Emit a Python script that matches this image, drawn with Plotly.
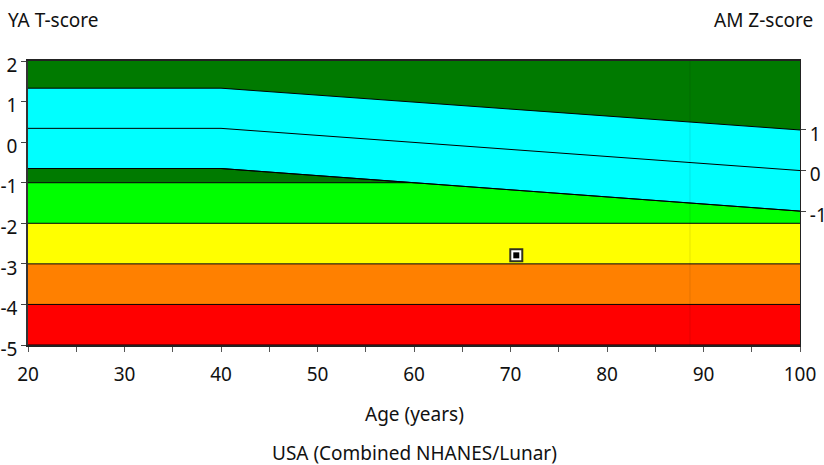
import plotly.graph_objects as go

# ---- data ----
age_range = [20, 100]
t_band_edges = [-5, -4, -3, -2, -1, 2]
t_band_colors = ["#FF0000", "#FF8000", "#FFFF00", "#00FF00", "#007A00"]

ref_ages = [20, 40, 100]
z_plus1_t = [1.33, 1.33, 0.30]
z_zero_t = [0.34, 0.34, -0.70]
z_minus1_t = [-0.65, -0.65, -1.70]

z_ticks = [1, 0, -1]
z_tick_text = ["1", "0", "-1"]
z_offset_at_100 = -0.70  # T value of Z=0 at age 100

t_ticks = [-5, -4, -3, -2, -1, 0, 1, 2]
t_tick_text = ["-5", "-4", "-3", "-2", "-1", "0", "1", "2"]

patient_age = [70.6]
patient_t = [-2.79]

grid_age = [88.6]

x_major = [20, 30, 40, 50, 60, 70, 80, 90, 100]
x_minor = [25, 35, 45, 55, 65, 75, 85, 95]

FONT = "Noto Sans"
FS = 19

fig = go.Figure()

# T-score bands
fig.add_trace(go.Scatter(x=age_range, y=[t_band_edges[0]] * 2, mode="lines",
                         line=dict(color="black", width=1), showlegend=False, hoverinfo="skip"))
for i, col in enumerate(t_band_colors):
    top = t_band_edges[i + 1]
    lc = "black" if top < 2 else "rgba(0,0,0,0)"
    fig.add_trace(go.Scatter(x=age_range, y=[top] * 2, mode="lines", fill="tonexty",
                             fillcolor=col, line=dict(color=lc, width=1),
                             showlegend=False, hoverinfo="skip"))

# Z-score reference band (cyan)
fig.add_trace(go.Scatter(x=ref_ages, y=z_minus1_t, mode="lines",
                         line=dict(color="black", width=1), showlegend=False, hoverinfo="skip"))
fig.add_trace(go.Scatter(x=ref_ages, y=z_plus1_t, mode="lines", fill="tonexty",
                         fillcolor="#00FFFF", line=dict(color="black", width=1),
                         showlegend=False, hoverinfo="skip"))
fig.add_trace(go.Scatter(x=ref_ages, y=z_zero_t, mode="lines",
                         line=dict(color="black", width=1), showlegend=False, hoverinfo="skip"))
fig.add_trace(go.Scatter(x=ref_ages, y=z_minus1_t, mode="lines",
                         line=dict(color="black", width=1), showlegend=False, hoverinfo="skip"))

# faint vertical grid line
fig.add_trace(go.Scatter(x=grid_age * 2, y=[t_band_edges[0], t_band_edges[-1]], mode="lines",
                         line=dict(color="rgba(0,0,0,0.10)", width=1),
                         showlegend=False, hoverinfo="skip"))

# patient marker
fig.add_trace(go.Scatter(x=patient_age, y=patient_t, mode="markers",
                         marker=dict(symbol="square", size=12, color="white",
                                     line=dict(color="#303020", width=2)),
                         showlegend=False, hoverinfo="skip"))
fig.add_trace(go.Scatter(x=patient_age, y=patient_t, mode="markers",
                         marker=dict(symbol="square", size=6, color="black"),
                         showlegend=False, hoverinfo="skip"))

# dummy trace for secondary axis
fig.add_trace(go.Scatter(x=[None], y=[None], yaxis="y2", showlegend=False, hoverinfo="skip"))

z_lo = t_band_edges[0] - z_offset_at_100
z_hi = t_band_edges[-1] - z_offset_at_100

fig.update_layout(
    width=824, height=465,
    margin=dict(l=28, r=24, t=61, b=120, autoexpand=False),
    paper_bgcolor="white", plot_bgcolor="white",
    font=dict(family=FONT, size=FS, color="#111"),
    xaxis=dict(range=age_range, tickvals=x_major, ticks="outside", ticklen=5,
               tickcolor="#555", showgrid=False, zeroline=False, automargin=False,
               showline=True, linecolor="#222", linewidth=1.5, mirror=True,
               minor=dict(tickvals=x_minor, ticks="outside", ticklen=5, tickcolor="#555"),
               tickfont=dict(size=FS), ticklabelstandoff=6),
    yaxis=dict(range=[t_band_edges[0], t_band_edges[-1]], tickvals=t_ticks,
               ticktext=t_tick_text, automargin=False,
               ticks="outside", ticklen=5, tickcolor="#444", showgrid=False, zeroline=False,
               showline=True, linecolor="#333", linewidth=1.5,
               tickfont=dict(size=FS), ticklabelstandoff=0, ticklabelshift=4),
    yaxis2=dict(range=[z_lo, z_hi], overlaying="y", side="right", tickvals=z_ticks,
                ticktext=z_tick_text, automargin=False,
                ticks="outside", ticklen=5, tickcolor="#444", showgrid=False, zeroline=False,
                showline=True, linecolor="#222", linewidth=1,
                tickfont=dict(size=FS), ticklabelstandoff=0, ticklabelshift=4),
    annotations=[
        dict(text="YA T-score", xref="paper", yref="paper", x=-0.028, y=1.145,
             xanchor="left", yanchor="middle", showarrow=False, font=dict(size=FS)),
        dict(text="AM Z-score", xref="paper", yref="paper", x=1.0194, y=1.145,
             xanchor="right", yanchor="middle", showarrow=False, font=dict(size=FS)),
        dict(text="Age (years)", xref="paper", yref="paper", x=0.5, y=-0.2416,
             xanchor="center", yanchor="middle", showarrow=False, font=dict(size=FS)),
        dict(text="USA (Combined NHANES/Lunar)", xref="paper", yref="paper", x=0.5, y=-0.38,
             xanchor="center", yanchor="middle", showarrow=False, font=dict(size=FS)),
    ],
)

fig.write_html("out.html", config={"displayModeBar": False},
               post_script="document.body.style.margin='0';document.body.style.overflow='hidden';")
